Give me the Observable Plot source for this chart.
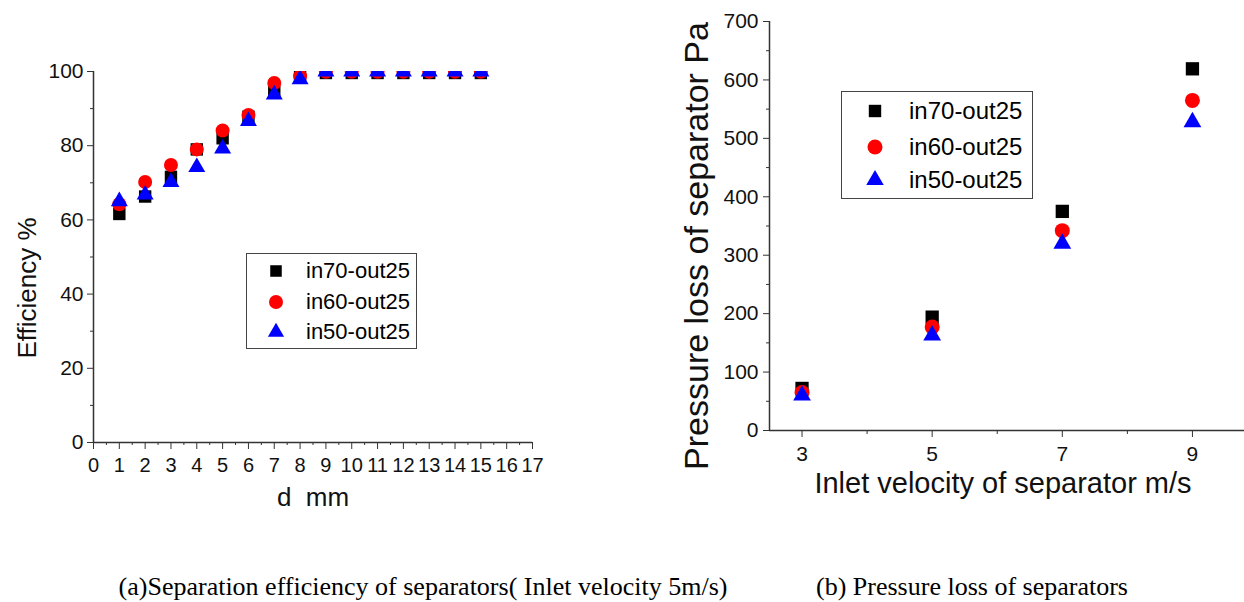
<!DOCTYPE html>
<html><head><meta charset="utf-8">
<script src="https://cdn.jsdelivr.net/npm/d3@7"></script>
<script src="https://cdn.jsdelivr.net/npm/@observablehq/plot@0.6"></script>
<style>
html,body{margin:0;padding:0;background:#fff;}
#root{position:relative;width:1244px;height:602px;overflow:hidden;font-family:"Liberation Sans",Arial,sans-serif;}
.panel{position:absolute;top:0;}
.legend{position:absolute;border:1px solid #444;background:#fff;box-sizing:border-box;}
.ltext{position:absolute;white-space:nowrap;color:#000;font-family:"Liberation Sans",Arial,sans-serif;}
.caption{position:absolute;font-family:"Liberation Serif","Times New Roman",serif;white-space:nowrap;color:#000;transform:translateX(-50%);}
</style></head><body><div id="root"></div>
<script>
// ---------- data ----------
const seriesNames = ["in70-out25", "in60-out25", "in50-out25"];
const seriesColors = ["#000000", "#ff0000", "#0000ff"];
const seriesSymbols = ["square", "circle", "triangle"];

// (a) separation efficiency vs particle diameter d (mm)
const diameters = [1, 2, 3, 4, 5, 6, 7, 8, 9, 10, 11, 12, 13, 14, 15];
const eff70 = [61.6, 66.3, 71.6, 79.0, 82.0, 87.8, 94.5, 98.5, 99.6, 99.6, 99.6, 99.6, 99.6, 99.6, 99.6];
const eff60 = [64.2, 70.2, 74.8, 79.0, 84.1, 88.3, 96.9, 98.7, 99.9, 99.9, 99.9, 99.9, 99.9, 99.9, 99.9];
const eff50 = [65.0, 66.8, 70.2, 74.2, 79.2, 86.6, 93.8, 97.9, 100.0, 100.0, 100.0, 100.0, 100.0, 100.0, 100.0];
const effTicks = [0, 20, 40, 60, 80, 100];
const effMinorTicks = [10, 30, 50, 70, 90];
const dTicks = [0, 1, 2, 3, 4, 5, 6, 7, 8, 9, 10, 11, 12, 13, 14, 15, 16, 17];
const dMinorTicks = [0.5, 1.5, 2.5, 3.5, 4.5, 5.5, 6.5, 7.5, 8.5, 9.5, 10.5, 11.5, 12.5, 13.5, 14.5, 15.5, 16.5];

// (b) pressure loss vs inlet velocity (m/s)
const velocities = [3, 5, 7, 9];
const loss70 = [72, 194, 375, 619];
const loss60 = [65, 177, 342, 565];
const loss50 = [60, 163, 320, 528];
const lossTicks = [0, 100, 200, 300, 400, 500, 600, 700];
const lossMinorTicks = [50, 150, 250, 350, 450, 550, 650];
const vTicks = [3, 5, 7, 9];
const vMinorTicks = [4, 6, 8];

const captionA = "(a)Separation efficiency of separators( Inlet velocity 5m/s)";
const captionB = "(b) Pressure loss of separators";

// ---------- build tables ----------
const effRows = [eff70, eff60, eff50].flatMap((vals, s) =>
  diameters.map((d, i) => ({d, v: vals[i], s})));
const lossRows = [loss70, loss60, loss50].flatMap((vals, s) =>
  velocities.map((x, i) => ({x, v: vals[i], s})));

const root = document.getElementById("root");
const axisColor = "#333";
const baseStyle = {fontFamily: "Liberation Sans, Arial, sans-serif", fontSize: "21px", color: "#111", background: "transparent", overflow: "visible"};

function dotsFor(rows, xKey, rs, clip) {
  return [0, 1, 2].map(s => Plot.dot(rows.filter(r => r.s === s), {
    x: xKey, y: "v", symbol: () => seriesSymbols[s], r: rs[s],
    fill: seriesColors[s], stroke: "none", clip
  }));
}

// ---------- panel (a) ----------
const plotA = Plot.plot({
  width: 560, height: 530,
  marginLeft: 93, marginRight: 28, marginTop: 71, marginBottom: 88,
  style: baseStyle,
  x: {domain: [0, 17]},
  y: {domain: [0, 100]},
  marks: [
    Plot.axisY({ticks: effTicks, tickSize: 6, tickPadding: 4, fontSize: 21, label: null, stroke: axisColor}),
    Plot.axisY({ticks: effMinorTicks, tickSize: 3, tickFormat: () => "", label: null, stroke: axisColor}),
    Plot.axisX({ticks: dTicks, tickSize: 7, tickPadding: 8, fontSize: 20, label: null, stroke: axisColor}),
    Plot.axisX({ticks: dMinorTicks, tickSize: 3, tickFormat: () => "", label: null, stroke: axisColor}),
    Plot.ruleX([0], {stroke: axisColor, strokeWidth: 1.5}),
    Plot.ruleY([0], {stroke: axisColor, strokeWidth: 1.5}),
    ...dotsFor(effRows, "d", [7, 7, 6.3], true),
    Plot.text(["d\u00a0\u00a0mm"], {text: d => d, frameAnchor: "bottom", dy: 55, fontSize: 26, lineAnchor: "middle", fill: "#111"}),
    Plot.text(["Efficiency %"], {text: d => d, frameAnchor: "left", textAnchor: "middle", lineAnchor: "middle", rotate: -90, dx: -66, dy: 31, fontSize: 26, fill: "#111", letterSpacing: "0.04em"})
  ]
});
plotA.classList.add("panel");
plotA.style.left = "0px";
root.appendChild(plotA);

// ---------- panel (b) ----------
const plotB = Plot.plot({
  width: 564, height: 530,
  marginLeft: 89, marginRight: 0, marginTop: 21, marginBottom: 100,
  style: baseStyle,
  x: {domain: [2.5, 9.8]},
  y: {domain: [0, 700]},
  marks: [
    Plot.axisY({ticks: lossTicks, tickSize: 6, tickPadding: 5, fontSize: 21, label: null, stroke: axisColor}),
    Plot.axisY({ticks: lossMinorTicks, tickSize: 3, tickFormat: () => "", label: null, stroke: axisColor}),
    Plot.axisX({ticks: vTicks, tickSize: 7, tickPadding: 9, fontSize: 21, label: null, stroke: axisColor}),
    Plot.axisX({ticks: vMinorTicks, tickSize: 4, tickFormat: () => "", label: null, stroke: axisColor}),
    Plot.ruleX([2.5], {stroke: axisColor, strokeWidth: 1.5}),
    Plot.ruleY([0], {stroke: axisColor, strokeWidth: 1.5}),
    ...dotsFor(lossRows, "x", [7.5, 7.5, 6.6], false),
    Plot.text(["Inlet velocity of separator m/s"], {text: d => d, frameAnchor: "bottom", dy: 53, dx: -4, fontSize: 29, lineAnchor: "middle", fill: "#111"}),
    Plot.text(["Pressure loss of separator Pa"], {text: d => d, frameAnchor: "left", textAnchor: "middle", lineAnchor: "middle", rotate: -90, dx: -72, dy: 20, fontSize: 34, fill: "#111"})
  ]
});
plotB.classList.add("panel");
plotB.style.left = "680px";
root.appendChild(plotB);

// ---------- legends ----------
function legend(box) {
  const div = document.createElement("div");
  div.className = "legend";
  Object.assign(div.style, {left: box.left + "px", top: box.top + "px", width: box.width + "px", height: box.height + "px"});
  root.appendChild(div);
  seriesNames.forEach((name, i) => {
    const cy = box.rows[i];
    const svg = d3.create("svg").attr("width", 30).attr("height", 30)
      .style("position", "absolute").style("left", (box.symX - 15) + "px").style("top", (cy - 15) + "px");
    const type = [d3.symbolSquare, d3.symbolCircle, d3.symbolTriangle][i];
    svg.append("path").attr("transform", "translate(15,15)")
      .attr("d", d3.symbol(type, Math.PI * box.r[i] * box.r[i])())
      .attr("fill", seriesColors[i]);
    root.appendChild(svg.node());
    const t = document.createElement("div");
    t.className = "ltext";
    t.textContent = name;
    Object.assign(t.style, {left: box.textX + "px", top: (cy - box.fontSize * 0.58) + "px", fontSize: box.fontSize + "px", lineHeight: "1.15"});
    root.appendChild(t);
  });
}
legend({left: 246, top: 253, width: 171, height: 96, symX: 276, textX: 306, rows: [271, 302, 332], fontSize: 22, r: [6.5, 7, 6]});
legend({left: 841, top: 91, width: 192, height: 108, symX: 875, textX: 909, rows: [111, 147, 180], fontSize: 24, r: [7, 7.5, 6.5]});

// ---------- captions ----------
[[captionA, 423], [captionB, 972]].forEach(([txt, cx]) => {
  const c = document.createElement("div");
  c.className = "caption";
  c.textContent = txt;
  Object.assign(c.style, {left: cx + "px", top: "572px", fontSize: "26px"});
  root.appendChild(c);
});
</script>
</body></html>
